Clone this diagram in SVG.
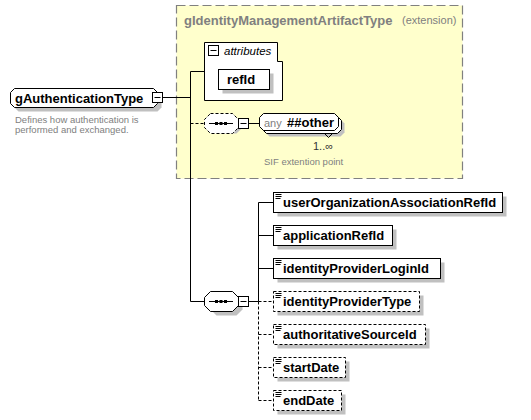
<svg xmlns="http://www.w3.org/2000/svg" width="531" height="420" viewBox="0 0 531 420">
<style>
text{font-family:"Liberation Sans",Arial,sans-serif}
.b{font-weight:bold;font-size:13px;fill:#000}
.g{fill:#808080}
.sm{font-size:9.5px}
.box{fill:#fff;stroke:#000;stroke-width:1}
.dbox{fill:#fff;stroke:#000;stroke-width:1;stroke-dasharray:3,2}
.sh{fill:#c0c0c0}
.ln{stroke:#000;stroke-width:1;fill:none}
.dl{stroke:#000;stroke-width:1;fill:none;stroke-dasharray:3,2}
.ic{stroke:#000;stroke-width:1}
</style>
<defs>
<g id="minus"><rect x="0.5" y="0.5" width="10" height="10" fill="#fff" stroke="#000"/><line x1="2.5" y1="5.5" x2="8.5" y2="5.5" stroke="#000"/></g>
<g id="icon"><line x1="2" y1="2" x2="8" y2="2" class="ic"/><line x1="2" y1="4" x2="8" y2="4" class="ic"/><line x1="2" y1="6" x2="7" y2="6" class="ic"/></g>
<g id="seqsym"><line x1="5" y1="10" x2="29" y2="10" stroke="#000"/><rect x="11" y="8.5" width="3" height="3" fill="#000"/><rect x="15.5" y="8.5" width="3" height="3" fill="#000"/><rect x="20" y="8.5" width="3" height="3" fill="#000"/></g>
</defs>

<g id="extension">
<rect x="176.5" y="5.5" width="286" height="173" fill="#ffffcc" stroke="#808080" stroke-width="1.2" stroke-dasharray="9,4"/>
<text x="184" y="25" class="b g">gIdentityManagementArtifactType</text>
<text x="402" y="24" class="g" font-size="11px">(extension)</text>
</g>

<g id="connectors">
<line x1="163" y1="97.5" x2="190.5" y2="97.5" class="ln"/>
<line x1="190.5" y1="71.5" x2="190.5" y2="301.5" class="ln"/>
<line x1="190.5" y1="71.5" x2="204.5" y2="71.5" class="ln"/>
<line x1="190.5" y1="123.5" x2="204.5" y2="123.5" class="dl"/>
<line x1="249" y1="123.5" x2="259.5" y2="123.5" class="ln"/>
<line x1="190.5" y1="301.5" x2="204.5" y2="301.5" class="ln"/>
<line x1="249" y1="301.5" x2="258.5" y2="301.5" class="ln"/>
<line x1="258.5" y1="202.5" x2="258.5" y2="301.5" class="ln"/>
<line x1="258.5" y1="301.5" x2="258.5" y2="400.5" class="dl"/>
<line x1="258.5" y1="202.5" x2="273.5" y2="202.5" class="ln"/>
<line x1="258.5" y1="235.5" x2="273.5" y2="235.5" class="ln"/>
<line x1="258.5" y1="268.5" x2="273.5" y2="268.5" class="ln"/>
<line x1="258.5" y1="301.5" x2="273.5" y2="301.5" class="dl"/>
<line x1="258.5" y1="334.5" x2="273.5" y2="334.5" class="dl"/>
<line x1="258.5" y1="367.5" x2="273.5" y2="367.5" class="dl"/>
<line x1="258.5" y1="400.5" x2="273.5" y2="400.5" class="dl"/>
</g>

<g id="gAuthenticationType">
<path d="M18.5,92.5 H157.5 L161.5,96.5 V107.5 L157.5,111.5 H18.5 L14.5,107.5 V96.5 Z" class="sh"/>
<path d="M14.5,88.5 H153.5 L157.5,92.5 V103.5 L153.5,107.5 H14.5 L10.5,103.5 V92.5 Z" class="box"/>
<text x="15" y="103" class="b">gAuthenticationType</text>
<use href="#minus" x="152" y="92"/>
<text x="15" y="123" class="g sm">Defines how authentication is</text>
<text x="15" y="133" class="g sm">performed and exchanged.</text>
</g>

<g id="attributes">
<path d="M204.5,42.5 H277.5 V61.5 H282.5 V100.5 H204.5 Z" class="box"/>
<use href="#minus" x="208" y="45"/>
<text x="224" y="55" font-size="11.5px" font-style="italic">attributes</text>
</g>

<g id="refId">
<rect x="222.5" y="73.5" width="51" height="20" class="sh"/>
<rect x="218.5" y="69.5" width="51" height="20" class="box"/>
<text x="227" y="84" class="b">refId</text>
</g>

<g id="seq-extension">
<path d="M216.5,117.5 H236.5 L242.5,123.5 V127.5 L236.5,133.5 H216.5 L210.5,127.5 V123.5 Z" class="sh"/>
<path d="M210.5,113.5 H232.5 L238.5,119.5 V127.5 L232.5,133.5 H210.5 L204.5,127.5 V119.5 Z" class="dbox"/>
<use href="#seqsym" x="204" y="113.5"/>
<use href="#minus" x="238" y="118"/>
</g>

<g id="any-other">
<path d="M269.5,119.5 H340.5 L344.5,123.5 V132.5 L340.5,136.5 H269.5 L265.5,132.5 V123.5 Z" class="sh"/>
<path d="M266.5,116.5 H337.5 L341.5,120.5 V129.5 L337.5,133.5 H266.5 L262.5,129.5 V120.5 Z" class="box"/>
<path d="M263.5,113.5 H334.5 L338.5,117.5 V126.5 L334.5,130.5 H263.5 L259.5,126.5 V117.5 Z" class="box"/>
<path d="M324.5,133.5 L328.5,137.5 L332.5,133.5" class="ln"/>
<text x="264" y="127" class="g" font-size="11px">any</text>
<text x="287" y="127" class="b">##other</text>
<text x="313" y="150" font-size="11px" fill="#333">1..∞</text>
<text x="264" y="165" class="g sm">SIF extention point</text>
</g>

<g id="seq-main">
<path d="M216.5,295.5 H236.5 L242.5,301.5 V309.5 L236.5,315.5 H216.5 L210.5,309.5 V301.5 Z" class="sh"/>
<path d="M210.5,291.5 H232.5 L238.5,297.5 V305.5 L232.5,311.5 H210.5 L204.5,305.5 V297.5 Z" class="box"/>
<use href="#seqsym" x="204" y="291.5"/>
<use href="#minus" x="238" y="296"/>
</g>

<g id="userOrganizationAssociationRefId">
<rect x="277.5" y="196.5" width="229" height="20" class="sh"/>
<rect x="273.5" y="192.5" width="229" height="20" class="box"/>
<use href="#icon" x="273.5" y="192.5"/>
<text x="283" y="207" class="b">userOrganizationAssociationRefId</text>
</g>
<g id="applicationRefId">
<rect x="277.5" y="229.5" width="119" height="20" class="sh"/>
<rect x="273.5" y="225.5" width="119" height="20" class="box"/>
<use href="#icon" x="273.5" y="225.5"/>
<text x="283" y="240" class="b">applicationRefId</text>
</g>
<g id="identityProviderLoginId">
<rect x="277.5" y="262.5" width="167" height="20" class="sh"/>
<rect x="273.5" y="258.5" width="167" height="20" class="box"/>
<use href="#icon" x="273.5" y="258.5"/>
<text x="283" y="273" class="b">identityProviderLoginId</text>
</g>
<g id="identityProviderType">
<rect x="277.5" y="295.5" width="146" height="20" class="sh"/>
<rect x="273.5" y="291.5" width="146" height="20" class="dbox"/>
<use href="#icon" x="273.5" y="291.5"/>
<text x="283" y="306" class="b">identityProviderType</text>
</g>
<g id="authoritativeSourceId">
<rect x="277.5" y="328.5" width="152" height="20" class="sh"/>
<rect x="273.5" y="324.5" width="152" height="20" class="dbox"/>
<use href="#icon" x="273.5" y="324.5"/>
<text x="283" y="339" class="b">authoritativeSourceId</text>
</g>
<g id="startDate">
<rect x="277.5" y="361.5" width="72" height="20" class="sh"/>
<rect x="273.5" y="357.5" width="72" height="20" class="dbox"/>
<use href="#icon" x="273.5" y="357.5"/>
<text x="283" y="372" class="b">startDate</text>
</g>
<g id="endDate">
<rect x="277.5" y="394.5" width="68" height="20" class="sh"/>
<rect x="273.5" y="390.5" width="68" height="20" class="dbox"/>
<use href="#icon" x="273.5" y="390.5"/>
<text x="283" y="405" class="b">endDate</text>
</g>
</svg>
